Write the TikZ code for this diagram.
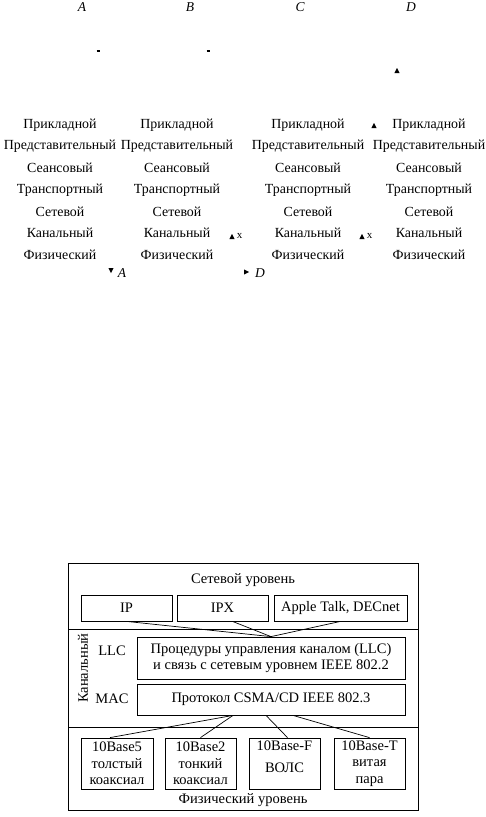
\documentclass[tikz,border=0pt]{standalone}
\usepackage{fontspec}
\setmainfont{Liberation Serif}
\usetikzlibrary{calc}

\begin{document}
\begin{tikzpicture}[x=1pt, y=-1pt,
  layer/.style={font=\fontsize{13.9}{16}\selectfont, inner sep=0pt},
  host/.style={font=\fontsize{13.5}{15}\selectfont\itshape, inner sep=0pt},
  txt/.style={font=\fontsize{14.5}{17}\selectfont, inner sep=0pt, align=center},
  proto/.style={draw, line width=0.8pt, inner sep=0pt, align=center,
    font=\fontsize{14.5}{16.5}\selectfont},
  link/.style={line width=0.7pt},
  dashmark/.style={line width=1.3pt},
  uptri/.pic={\fill (-2.6,2) -- (2.6,2) -- (0,-3) -- cycle;},
  dntri/.pic={\fill (-2.6,-2) -- (2.6,-2) -- (0,3) -- cycle;},
  rttri/.pic={\fill (-2,-2.6) -- (-2,2.6) -- (3,0) -- cycle;}
]
\useasboundingbox (0,0) rectangle (486,817);

% --- Hosts (top line) ---
\node[host] (hA) at (82,7)  {A};
\node[host] (hB) at (190,7) {B};
\node[host] (hC) at (300,7) {C};
\node[host] (hD) at (411,7) {D};

% --- Leftover marks ---
\coordinate (m1) at (98,51);
\coordinate (m2) at (208,51);
\draw[dashmark] ($(m1)+(-1.5,0)$) -- ($(m1)+(1.5,0)$);
\draw[dashmark] ($(m2)+(-1.5,0)$) -- ($(m2)+(1.5,0)$);
\pic (t1) at (397,71) {uptri};

% --- OSI stacks ---
\foreach \col/\cx in {1/60,2/177,3/308,4/429}{
  \foreach \lay [count=\r] in {Прикладной,Представительный,Сеансовый,
      Транспортный,Сетевой,Канальный,Физический}{
    \node[layer] (l\col-\r) at ({\cx},{103.4+21.6*\r}) {\lay};
  }
}

% --- Arrow heads between stacks ---
\pic (t2) at (374,126) {uptri};
\pic (t3) at (232,237) {uptri};
\node[layer, font=\fontsize{11}{12}\selectfont] (x1) at (239.5,236) {x};
\pic (t4) at (362,237) {uptri};
\node[layer, font=\fontsize{11}{12}\selectfont] (x2) at (369.5,236) {x};
\pic (t5) at (111,270) {dntri};

% --- Bottom line ---
\node[host] (bA) at (122,273) {A};
\pic (t6) at (246,272) {rttri};
\node[host] (bD) at (260,273) {D};

% --- Ethernet frame ---
\draw[link] (68,563) rectangle (418,810);
\node[txt] (net) at (243,580) {Сетевой уровень};

\node[proto, minimum width=91, minimum height=26] (ip)    at (126.5,608) {IP};
\node[proto, minimum width=91, minimum height=26] (ipx)   at (222.5,608) {IPX};
\node[proto, minimum width=133, minimum height=26] (apple) at (340.5,608) {Apple Talk, DECnet};

\draw[link] (68,629) -- (418,629);

\node[proto, minimum width=268, minimum height=42] (llc) at (271,658)
  {Процедуры управления каналом (LLC)\\и связь с сетевым уровнем IEEE 802.2};
\node[proto, minimum width=268, minimum height=31] (mac) at (271,699.5)
  {Протокол CSMA/CD IEEE 802.3};
\node[txt] (llcl) at (112,651) {LLC};
\node[txt] (macl) at (112,699) {MAC};
\node[txt, rotate=90] (kan) at (83,668) {Канальный};

\draw[link] (68,727) -- (418,727);

\node[proto, minimum width=72, minimum height=51] (b5) at (117,763.5)
  {10Base5\\толстый\\коаксиал};
\node[proto, minimum width=71, minimum height=51] (b2) at (200.5,763.5)
  {10Base2\\тонкий\\коаксиал};
\node[proto, minimum width=71, minimum height=51] (bf) at (284.5,763.5)
  {10Base-F\\[5pt]ВОЛС\\[-3pt]};
\node[proto, minimum width=71, minimum height=51] (bt) at (369.5,763.5)
  {10Base-T\\витая\\пара};
\node[txt] (phys) at (243,800) {Физический уровень};

% --- Connections ---
\draw[link] (ip.south) -- (llc.north);
\draw[link] ([xshift=10]ipx.south) -- (llc.north);
\draw[link] (apple.south) -- (llc.north);
\draw[link] ([xshift=-38]mac.south) -- ([xshift=-7]b5.north);
\draw[link] ([xshift=-38]mac.south) -- (b2.north);
\draw[link] ([xshift=-5]mac.south) -- ([xshift=3]bf.north);
\draw[link] ([xshift=22]mac.south) -- (bt.north);

\end{tikzpicture}
\end{document}
